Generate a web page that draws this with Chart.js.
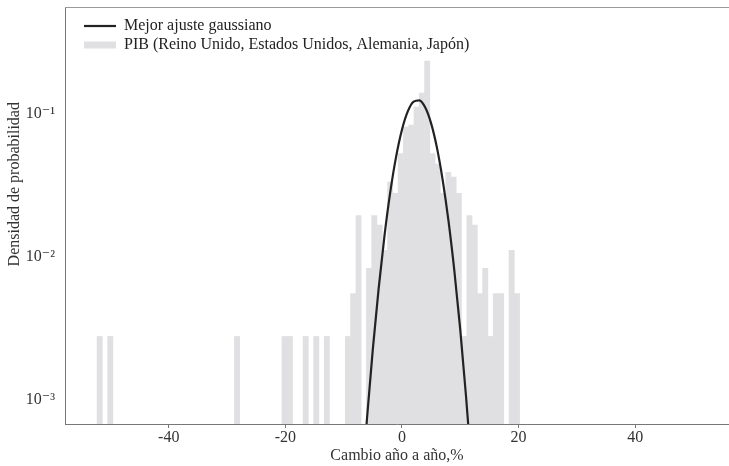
<!DOCTYPE html>
<html>
<head>
<meta charset="utf-8">
<script src="https://cdn.jsdelivr.net/npm/chart.js@4.4.1/dist/chart.umd.min.js"></script>
<style>
html,body{margin:0;padding:0;background:#fff;}
#wrap{width:729px;height:466px;position:relative;}
</style>
</head>
<body>
<div id="wrap"><canvas id="c" width="729" height="466"></canvas></div>
<script>
// ---- data ----
const binCenters = [-51.85, -50.04, -28.29, -20.14, -19.23, -16.51, -14.70, -12.89, -9.27,
  -8.36, -7.45, -5.64, -4.74, -3.83, -2.92, -2.02, -1.11, -0.21, 0.70, 1.61, 2.51, 3.42, 4.33,
  5.23, 6.14, 7.04, 7.95, 8.86, 9.76, 10.67, 11.57, 12.48, 13.39, 14.29, 15.20, 16.10, 17.01,
  18.82, 19.73];
const binDensity = [0.00278, 0.00278, 0.00278, 0.00278, 0.00278, 0.00278, 0.00278, 0.00278, 0.00278,
  0.00555, 0.0194, 0.00833, 0.0194, 0.0167, 0.0111, 0.0333, 0.0278, 0.0527, 0.0805, 0.0833, 0.111, 0.139, 0.233,
  0.0527, 0.0444, 0.0278, 0.0389, 0.0361, 0.0278, 0.00278, 0.0194, 0.0167, 0.00555, 0.00833, 0.00278, 0.00555, 0.00555,
  0.0111, 0.00555];
const fitX = [-7, -6, -5, -4, -3, -2, -1, 0, 1, 2, 3, 4, 5, 6, 7, 8, 9, 10, 11, 12];
const fitY = [0.00021, 0.00074, 0.00226, 0.0060, 0.0140, 0.0284, 0.0501, 0.0772, 0.1037, 0.1214,
  0.1240, 0.1103, 0.0856, 0.0579, 0.0341, 0.0176, 0.0079, 0.0031, 0.00105, 0.00031];
const xTickValues = [-40, -20, 0, 20, 40];
const yTickValues = [0.001, 0.01, 0.1];
const xLimits = [-57.8, 56.1];
const yLimits = [0.00068, 0.556];
const seriesLabels = ['Mejor ajuste gaussiano', 'PIB (Reino Unido, Estados Unidos, Alemania, Japón)'];
const xTitle = 'Cambio año a año,%';
const yTitle = 'Densidad de probabilidad';

// ---- styling ----
const FONT = "'Liberation Serif', 'Times New Roman', 'DejaVu Serif', serif";
const TEXT = '#333333';
const BAR = '#e0e0e2';
const LINE = '#222222';
const AXIS = '#777777';

Chart.defaults.font.family = FONT;
Chart.defaults.font.size = 16;
Chart.defaults.color = TEXT;

const SUP = {'-': '\u207B', '0': '\u2070', '1': '\u00B9', '2': '\u00B2', '3': '\u00B3', '4': '\u2074',
  '5': '\u2075', '6': '\u2076', '7': '\u2077', '8': '\u2078', '9': '\u2079'};
function powLabel(v) {
  const e = Math.round(Math.log10(v));
  return '10' + String(e).split('').map(ch => SUP[ch]).join('');
}

const framePlugin = {
  id: 'frame',
  afterLayout(chart) {
    const lg = chart.legend;
    if (lg) {
      const h = lg.bottom - lg.top;
      lg.left = chart.chartArea.left + 16;
      lg.top = chart.chartArea.top + 8;
      lg.bottom = lg.top + h;
    }
  },
  afterDraw(chart) {
    const {ctx, chartArea} = chart;
    ctx.save();
    ctx.strokeStyle = '#9a9a9a';
    ctx.lineWidth = 1;
    ctx.beginPath();
    ctx.moveTo(chartArea.left, chartArea.top + 0.5);
    ctx.lineTo(chartArea.right, chartArea.top + 0.5);
    ctx.stroke();
    // y axis title
    ctx.translate(15, chartArea.top + (chartArea.bottom - chartArea.top) * 0.425);
    ctx.rotate(-Math.PI / 2);
    ctx.font = '16px ' + FONT;
    ctx.fillStyle = TEXT;
    ctx.textAlign = 'center';
    ctx.textBaseline = 'middle';
    ctx.fillText(yTitle, 0, 0);
    ctx.restore();
  }
};

new Chart(document.getElementById('c'), {
  type: 'bar',
  data: {
    datasets: [
      {
        type: 'line',
        label: seriesLabels[0],
        data: fitX.map((x, i) => ({x: x, y: fitY[i]})),
        borderColor: LINE,
        backgroundColor: LINE,
        borderWidth: 2.2,
        pointRadius: 0,
        cubicInterpolationMode: 'monotone',
        fill: false,
        order: 0
      },
      {
        type: 'bar',
        label: seriesLabels[1],
        data: binCenters.map((x, i) => ({x: x, y: binDensity[i]})),
        backgroundColor: BAR,
        borderWidth: 0,
        barPercentage: 1,
        categoryPercentage: 1,
        order: 1
      }
    ]
  },
  options: {
    responsive: false,
    animation: false,
    devicePixelRatio: 1,
    layout: {padding: {top: 7, left: 0, right: 0, bottom: 0}},
    plugins: {
      tooltip: {enabled: false},
      legend: {
        position: 'chartArea',
        align: 'start',
        labels: {
          usePointStyle: true,
          pointStyleWidth: 32,
          boxHeight: 7,
          padding: 3,
          color: '#222',
          font: {size: 16, family: FONT},
          generateLabels(chart) {
            const items = Chart.defaults.plugins.legend.labels.generateLabels(chart);
            items.forEach(it => {
              const ds = chart.data.datasets[it.datasetIndex];
              if (ds.type === 'line') {
                it.pointStyle = 'line'; it.strokeStyle = LINE; it.lineWidth = 2.2;
              } else {
                it.pointStyle = 'rect'; it.fillStyle = BAR; it.lineWidth = 0;
              }
            });
            return items;
          }
        }
      }
    },
    scales: {
      x: {
        type: 'linear',
        min: xLimits[0],
        max: xLimits[1],
        offset: false,
        afterBuildTicks(scale) { scale.ticks = xTickValues.map(v => ({value: v})); },
        afterFit(scale) { scale.height = 42; scale.paddingLeft = 0; scale.paddingRight = 0; },
        grid: {display: true, offset: false, drawOnChartArea: false, drawTicks: true, tickLength: 4, color: AXIS},
        border: {display: true, color: AXIS, width: 1},
        ticks: {padding: 0, color: TEXT, font: {size: 16}, callback: v => String(v)},
        title: {display: true, text: xTitle, color: TEXT, font: {size: 16}, padding: {top: 0, bottom: 1}}
      },
      y: {
        type: 'logarithmic',
        min: yLimits[0],
        max: yLimits[1],
        afterBuildTicks(scale) { scale.ticks = yTickValues.map(v => ({value: v, major: true})); },
        afterFit(scale) { scale.width = 65; scale.paddingTop = 0; scale.paddingBottom = 0; },
        grid: {display: true, offset: false, drawOnChartArea: false, drawTicks: false, color: AXIS},
        border: {display: true, color: AXIS, width: 1},
        ticks: {padding: 10, color: TEXT, font: {size: 16}, callback: v => powLabel(v)}
      }
    }
  },
  plugins: [framePlugin]
});
</script>
</body>
</html>
